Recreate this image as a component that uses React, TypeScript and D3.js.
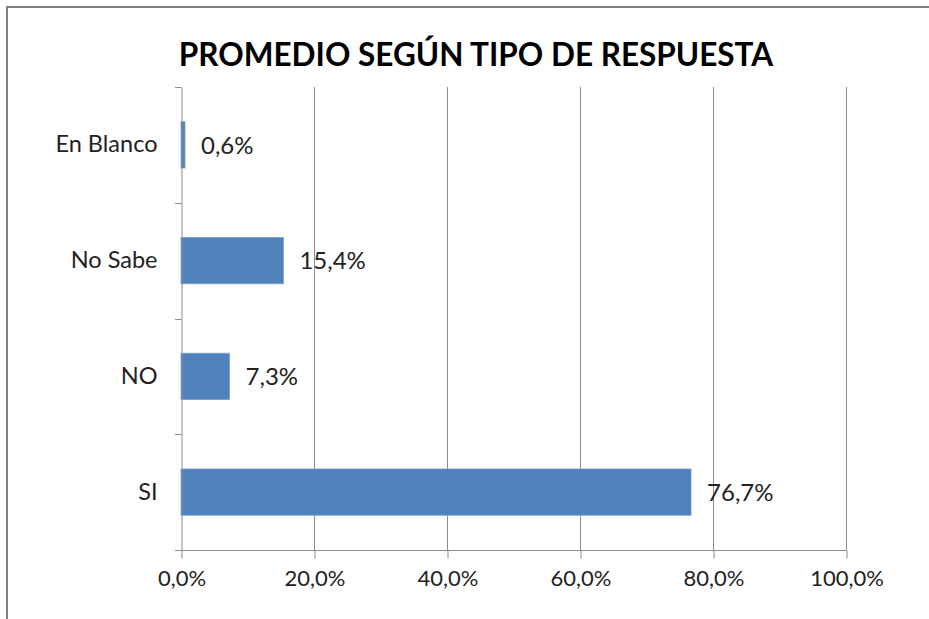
import React, { useRef, useEffect } from "react";
import * as d3 from "d3";

const categories = ["En Blanco", "No Sabe", "NO", "SI"];
const values = [0.6, 15.4, 7.3, 76.7];
const xTicks = [0, 20, 40, 60, 80, 100];
const title = "PROMEDIO SEGÚN TIPO DE RESPUESTA";

const fmt = (v: number) => v.toFixed(1).replace(".", ",") + "%";

function App() {
  const canvas = useRef<SVGSVGElement>(null);

  useEffect(() => {
    const width = 929;
    const height = 619;
    const margin = { top: 87, right: 83, bottom: 69, left: 181 };

    const svg = d3.select(canvas.current);
    svg.selectAll("*").remove();

    svg
      .append("rect")
      .attr("width", width)
      .attr("height", height)
      .attr("fill", "#fff");

    const x = d3
      .scaleLinear()
      .domain([0, 100])
      .range([margin.left, width - margin.right]);

    const y = d3
      .scaleBand()
      .domain(categories)
      .range([margin.top, height - margin.bottom])
      .paddingInner(0.6)
      .paddingOuter(0.3);

    const font = "Lato, 'Open Sans', sans-serif";

    svg
      .append("text")
      .attr("x", 476)
      .attr("y", 66)
      .attr("text-anchor", "middle")
      .attr("font-family", font)
      .attr("font-weight", "bold")
      .attr("font-size", 31.5)
      .attr("fill", "#000")
      .text(title);

    // vertical gridlines
    svg
      .append("g")
      .selectAll("line")
      .data(xTicks.slice(1))
      .join("line")
      .attr("x1", (d) => x(d) + 0.5)
      .attr("x2", (d) => x(d) + 0.5)
      .attr("y1", margin.top)
      .attr("y2", height - margin.bottom)
      .attr("stroke", "#8c8c8c");

    // bars
    svg
      .append("g")
      .selectAll("rect")
      .data(values)
      .join("rect")
      .attr("x", x(0))
      .attr("y", (_, i) => y(categories[i])!)
      .attr("width", (d) => x(d) - x(0))
      .attr("height", y.bandwidth())
      .attr("fill", "#4f81bd")
      .attr("stroke", "#7aa0d0")
      .attr("stroke-width", 0.8);

    // value labels
    svg
      .append("g")
      .selectAll("text")
      .data(values)
      .join("text")
      .attr("x", (d) => x(d) + 16)
      .attr("y", (_, i) => y(categories[i])! + y.bandwidth() / 2)
      .attr("dy", "0.36em")
      .attr("font-family", font)
      .attr("font-size", 24)
      .attr("fill", "#222")
      .text((d) => fmt(d));

    // y axis
    const yAxis = d3.axisLeft(y).tickSize(0).tickPadding(24);
    const yG = svg
      .append("g")
      .attr("transform", `translate(${margin.left + 0.5},0)`)
      .call(yAxis);
    yG.select(".domain").attr("stroke", "#8c8c8c");
    yG.selectAll("text")
      .attr("font-family", font)
      .attr("font-size", 23.5)
      .attr("fill", "#222");

    // y axis tick marks at band boundaries
    const bounds = d3
      .range(categories.length + 1)
      .map((i) => margin.top + (i * (height - margin.bottom - margin.top)) / categories.length);
    svg
      .append("g")
      .selectAll("line")
      .data(bounds)
      .join("line")
      .attr("x1", margin.left - 6)
      .attr("x2", margin.left + 0.5)
      .attr("y1", (d) => Math.round(d) + 0.5)
      .attr("y2", (d) => Math.round(d) + 0.5)
      .attr("stroke", "#8c8c8c");

    // x axis
    const xAxis = d3
      .axisBottom(x)
      .tickValues(xTicks)
      .tickSize(8)
      .tickPadding(12)
      .tickFormat((d) => fmt(d as number));
    const xG = svg
      .append("g")
      .attr("transform", `translate(0.5,${height - margin.bottom + 0.5})`)
      .call(xAxis);
    xG.select(".domain")
      .attr("stroke", "#8c8c8c")
      .attr("d", `M${margin.left},0H${width - margin.right}`);
    xG.selectAll(".tick line").attr("stroke", "#8c8c8c");
    xG.selectAll("text")
      .attr("font-family", font)
      .attr("font-size", 22)
      .attr("fill", "#222");

    // outer chart frame, drawn last so it sits on top
    svg
      .append("line")
      .attr("x1", 7)
      .attr("x2", 7)
      .attr("y1", 6)
      .attr("y2", height)
      .attr("stroke", "#808080")
      .attr("stroke-width", 2);
    svg
      .append("line")
      .attr("x1", 6)
      .attr("x2", width)
      .attr("y1", 7)
      .attr("y2", 7)
      .attr("stroke", "#808080")
      .attr("stroke-width", 2);
  }, []);

  return (
    <div style={{ position: "fixed", left: 0, top: 0 }}>
      <svg ref={canvas} width={929} height={619} style={{ display: "block" }} />
    </div>
  );
}

export default App;
